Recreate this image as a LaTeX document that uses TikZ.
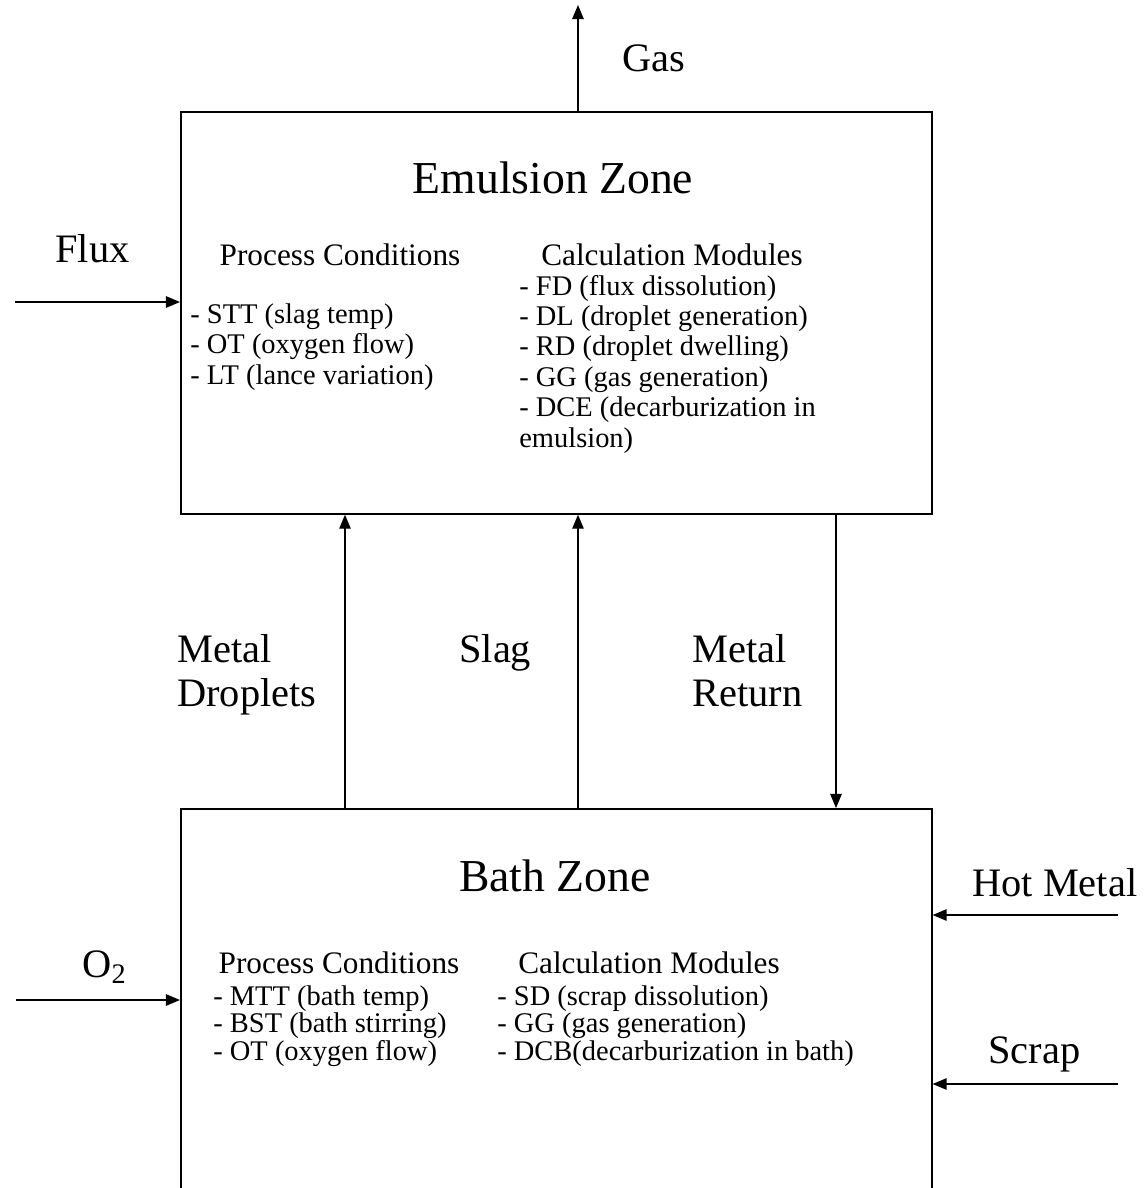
\documentclass[tikz,border=0pt]{standalone}
\usepackage{fontspec}
\setmainfont{Liberation Serif}
\usetikzlibrary{arrows.meta}

\tikzset{
  zone/.style = {draw, line width = 1pt, shape = rectangle, inner sep = 0pt, anchor = north west},
  title/.style = {font = \fontsize{26}{30}\selectfont, inner sep = 0pt, anchor = base},
  flow/.style = {font = \fontsize{23}{25}\selectfont, inner sep = 0pt, align = left, anchor = base west},
  head/.style = {font = \fontsize{17.8}{19}\selectfont, inner sep = 0pt, anchor = base},
  items/.style = {font = \fontsize{16.2}{17.3}\selectfont, inner sep = 0pt, align = left, anchor = base west},
  feed/.style = {-{Triangle[length = 8pt, width = 6.5pt]}, line width = 0.8pt}
}

\begin{document}
\begin{tikzpicture}[x = 0.02cm, y = -0.02cm]
\useasboundingbox (0,0) rectangle (1144,1188);
\clip (0,0) rectangle (1144,1188);

\node[zone, minimum width = 15.02cm, minimum height = 8.04cm] (1) at (180,111) {};
\node[zone, minimum width = 15.02cm, minimum height = 9cm] (2) at (180,808) {};

\node[title] (3) at (553,193) {Emulsion Zone};
\node[head] (5) at (340,265) {Process Conditions};
\node[head] (6) at (672,265) {Calculation Modules};
\node[items] (7) at (190,384) {- STT (slag temp)\\- OT (oxygen flow)\\- LT (lance variation)};
\node[items] (8) at (519,447) {- FD (flux dissolution)\\- DL (droplet generation)\\- RD (droplet dwelling)\\- GG (gas generation)\\- DCE (decarburization in\\emulsion)};

\node[title] (4) at (555,891) {Bath Zone};
\node[head] (9) at (339,973) {Process Conditions};
\node[head] (10) at (649,973) {Calculation Modules};
\node[items, font = \fontsize{16.2}{15.4}\selectfont] (11) at (213,1060) {- MTT (bath temp)\\- BST (bath stirring)\\- OT (oxygen flow)};
\node[items, font = \fontsize{16.2}{15.4}\selectfont] (12) at (497,1060) {- SD (scrap dissolution)\\- GG (gas generation)\\- DCB(decarburization in bath)};

\node[flow] (13) at (55,262) {Flux};
\node[flow] (14) at (622,71) {Gas};
\node[flow] (15) at (177,706) {Metal\\Droplets};
\node[flow] (16) at (459,662) {Slag};
\node[flow] (17) at (692,706) {Metal\\Return};
\node[flow] (18) at (972,896) {Hot Metal};
\node[flow] (19) at (988,1063) {Scrap};
\node[flow] (20) at (82,977) {O\textsubscript{2}};

\coordinate (21) at (578,5);
\coordinate (22) at (15,302);
\coordinate (23) at (16,1000);
\coordinate (24) at (1118,915);
\coordinate (25) at (1118,1084);
\coordinate (26) at (345,0);
\coordinate (27) at (836,0);

\draw[feed] (21 |- 1.north) -- (21);
\draw[feed] (22) -- (22 -| 1.west);
\draw[feed] (23) -- (23 -| 2.west);
\draw[feed] (24) -- (24 -| 2.east);
\draw[feed] (25) -- (25 -| 2.east);
\draw[feed] (26 |- 2.north) -- (26 |- 1.south);
\draw[feed] (21 |- 2.north) -- (21 |- 1.south);
\draw[feed] (27 |- 1.south) -- (27 |- 2.north);
\end{tikzpicture}
\end{document}
